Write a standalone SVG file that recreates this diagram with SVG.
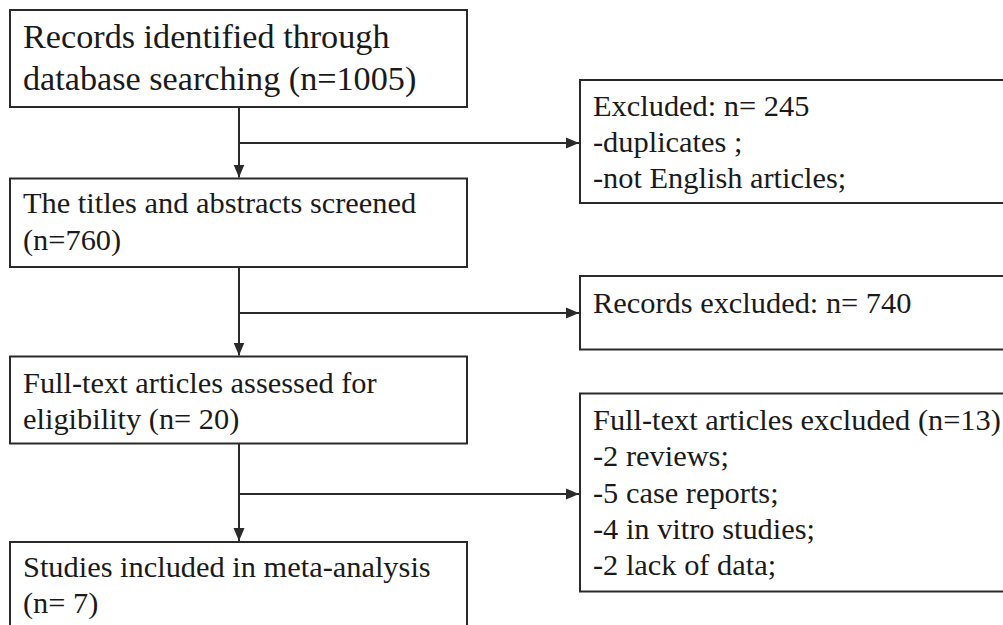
<svg xmlns="http://www.w3.org/2000/svg" width="1003" height="625" viewBox="0 0 1003 625">
  <defs>
    <style>
      .box { fill: #ffffff; stroke: #2a2a2a; stroke-width: 2; }
      .conn { fill: none; stroke: #2a2a2a; stroke-width: 2; }
      .t { font-family: "Liberation Serif", "Times New Roman", serif; fill: #1a1a1a; font-size: 30.4px; }
      .big { font-size: 34.2px; }
    </style>
    <marker id="arrow" markerUnits="userSpaceOnUse" markerWidth="14" markerHeight="12" refX="13" refY="6" orient="auto">
      <path d="M0,0.5 L13,6 L0,11.5 Z" fill="#2a2a2a"/>
    </marker>
  </defs>
  <rect width="1003" height="625" fill="#ffffff"/>

  <g id="connectors">
    <line class="conn" x1="239" y1="107" x2="239" y2="177.5" marker-end="url(#arrow)"/>
    <line class="conn" x1="239" y1="143" x2="579" y2="143" marker-end="url(#arrow)"/>
    <line class="conn" x1="239" y1="267" x2="239" y2="355.5" marker-end="url(#arrow)"/>
    <line class="conn" x1="239" y1="313" x2="579" y2="313" marker-end="url(#arrow)"/>
    <line class="conn" x1="239" y1="443.5" x2="239" y2="541" marker-end="url(#arrow)"/>
    <line class="conn" x1="239" y1="494" x2="579" y2="494" marker-end="url(#arrow)"/>
  </g>

  <g id="identified">
    <rect class="box" x="10" y="10" width="457" height="97"/>
    <text class="t big" x="23" y="48">Records identified through</text>
    <text class="t big" x="23" y="90">database searching (n=1005)</text>
  </g>

  <g id="excluded1">
    <rect class="box" x="580" y="80" width="430" height="123"/>
    <text class="t" x="593" y="115.5">Excluded: n= 245</text>
    <text class="t" x="593" y="151.5">-duplicates ;</text>
    <text class="t" x="593" y="188">-not English articles;</text>
  </g>

  <g id="screened">
    <rect class="box" x="10" y="178.5" width="457" height="88.5"/>
    <text class="t" x="23" y="213">The titles and abstracts screened</text>
    <text class="t" x="23" y="250">(n=760)</text>
  </g>

  <g id="excluded2">
    <rect class="box" x="580" y="276" width="430" height="73.5"/>
    <text class="t" x="593" y="313">Records excluded: n= 740</text>
  </g>

  <g id="fulltext">
    <rect class="box" x="10" y="356.5" width="457" height="87"/>
    <text class="t" x="23" y="392.5">Full-text articles assessed for</text>
    <text class="t" x="23" y="428.5">eligibility (n= 20)</text>
  </g>

  <g id="excluded3">
    <rect class="box" x="580" y="393.5" width="430" height="198"/>
    <text class="t" x="593" y="430">Full-text articles excluded (n=13)</text>
    <text class="t" x="593" y="466.3">-2 reviews;</text>
    <text class="t" x="593" y="502.6">-5 case reports;</text>
    <text class="t" x="593" y="539">-4 in vitro studies;</text>
    <text class="t" x="593" y="575">-2 lack of data;</text>
  </g>

  <g id="included">
    <rect class="box" x="10" y="542" width="457" height="90"/>
    <text class="t" x="23" y="577">Studies included in meta-analysis</text>
    <text class="t" x="23" y="613">(n= 7)</text>
  </g>
</svg>
